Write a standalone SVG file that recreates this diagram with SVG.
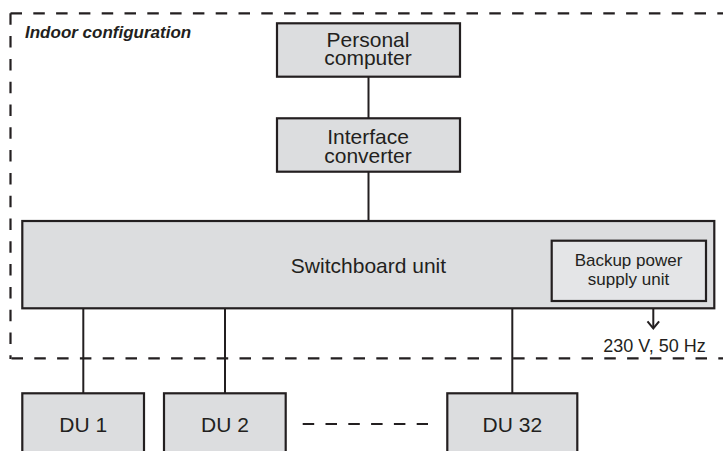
<svg xmlns="http://www.w3.org/2000/svg" width="723" height="451" viewBox="0 0 723 451">
<style>
.box{fill:#dcdddf;stroke:#231f20;stroke-width:2.2}
.inner{fill:#e4e5e7;stroke:#231f20;stroke-width:2.2}
.t{font-family:"Liberation Sans",Arial,sans-serif;font-size:21px;fill:#231f20;text-anchor:middle}
.s{font-family:"Liberation Sans",Arial,sans-serif;font-size:17px;fill:#231f20;text-anchor:middle}
.ln{stroke:#231f20;stroke-width:2;fill:none}
.dash{stroke:#231f20;stroke-width:2.2;fill:none;stroke-dasharray:11.5 11.3}
</style>
<g id="frame">
<line class="dash" x1="10.5" y1="13.3" x2="730" y2="13.3"/>
<line class="dash" x1="10.5" y1="13.3" x2="10.5" y2="359"/>
<line class="dash" x1="10.5" y1="358.3" x2="730" y2="358.3" style="stroke-dashoffset:-1"/>
<text x="25" y="37.5" style="font-family:'Liberation Sans',Arial,sans-serif;font-size:17px;font-weight:bold;font-style:italic;fill:#231f20">Indoor configuration</text>
</g>
<g id="connectors">
<line class="ln" x1="368.5" y1="77" x2="368.5" y2="118"/>
<line class="ln" x1="368.5" y1="172" x2="368.5" y2="221"/>
<line class="ln" x1="83.3" y1="308" x2="83.3" y2="393"/>
<line class="ln" x1="225" y1="308" x2="225" y2="393"/>
<line class="ln" x1="512.3" y1="308" x2="512.3" y2="393"/>
<line class="ln" x1="653.3" y1="301" x2="653.3" y2="328"/>
<polyline class="ln" points="647.5,321.3 653.3,328.5 659.1,321.3"/>
<line class="dash" x1="302.7" y1="424" x2="428" y2="424"/>
</g>
<g id="pc">
<rect class="box" x="277" y="23.3" width="183" height="53.4"/>
<text class="t" x="368" y="46.7">Personal</text>
<text class="t" x="368" y="65">computer</text>
</g>
<g id="ic">
<rect class="box" x="277" y="118.3" width="183" height="53.4"/>
<text class="t" x="368" y="144.3">Interface</text>
<text class="t" x="368" y="162.7">converter</text>
</g>
<g id="switchboard">
<rect class="box" x="22.3" y="221" width="692" height="87.3"/>
<text class="t" x="368.5" y="273.3">Switchboard unit</text>
</g>
<g id="backup">
<rect class="inner" x="551.7" y="240.7" width="154.3" height="60.3"/>
<text class="s" x="628.5" y="266">Backup power</text>
<text class="s" x="628.5" y="285">supply unit</text>
</g>
<g id="power">
<text class="s" x="654.5" y="351.7" style="font-size:18px">230 V, 50 Hz</text>
</g>
<g id="du1">
<rect class="box" x="22.3" y="393.3" width="121.7" height="70"/>
<text class="t" x="83.3" y="431.7">DU 1</text>
</g>
<g id="du2">
<rect class="box" x="164" y="393.3" width="121.7" height="70"/>
<text class="t" x="225" y="431.7">DU 2</text>
</g>
<g id="du32">
<rect class="box" x="447.3" y="393.3" width="130" height="70"/>
<text class="t" x="512.3" y="431.7">DU 32</text>
</g>
</svg>
